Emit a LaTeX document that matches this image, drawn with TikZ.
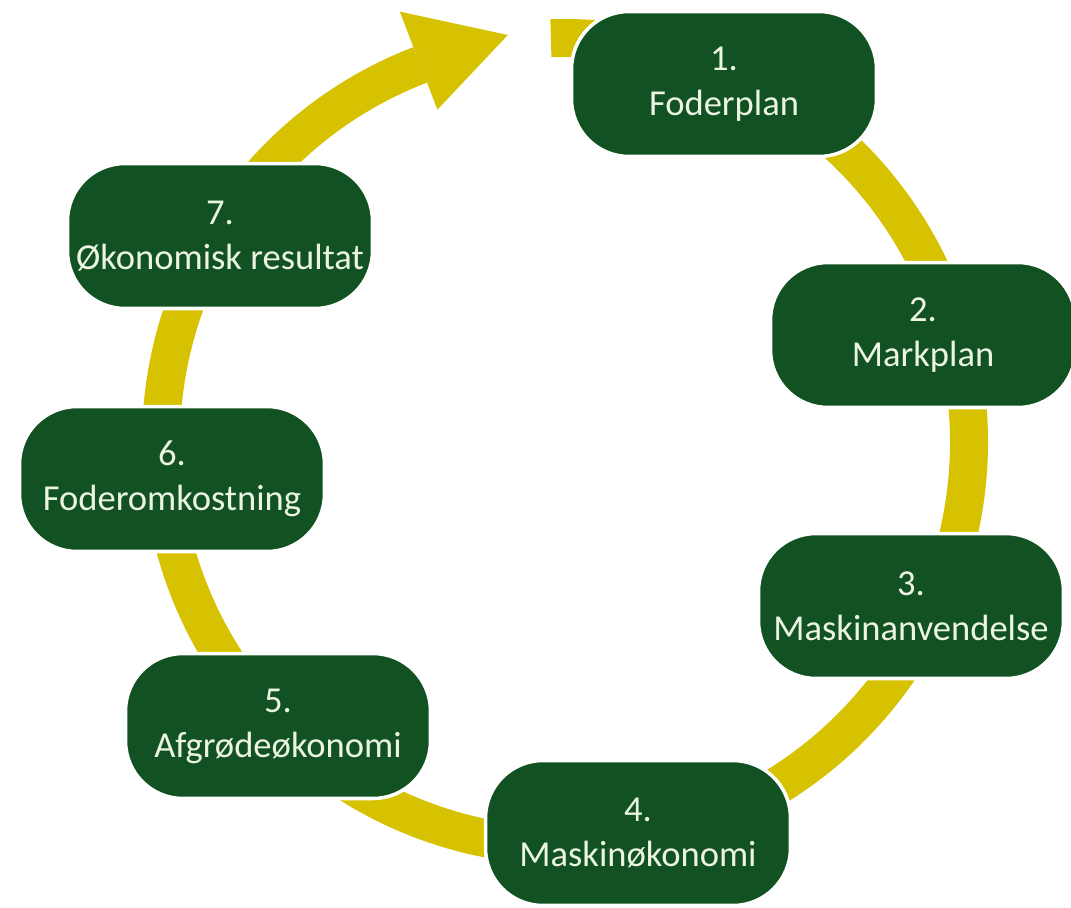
\documentclass[tikz,border=0pt]{standalone}
\usepackage{fontspec}
\setmainfont{Carlito}
\usetikzlibrary{calc}
\definecolor{bandyellow}{RGB}{214,194,0}
\definecolor{boxgreen}{RGB}{18,82,34}
\definecolor{boxtext}{RGB}{236,244,226}
\tikzset{
	stepbox/.style = {
			rectangle, rounded corners=1.15cm, fill=boxgreen, draw=white, line width=2pt,
			minimum width=6.1cm, minimum height=2.9cm, align=center,
			text=boxtext, font=\fontsize{20.8}{25.5}\selectfont
	},
	band/.style = {draw=bandyellow, line width=0.76cm}
}

\begin{document}
\begin{tikzpicture}[x=0.02cm, y=0.02cm]
					\useasboundingbox (0,0) rectangle (1071,-907);
					\coordinate (O) at (565,-442);
					% ====== Cycle ========
					\draw[band] ([shift={(92:404)}]O) arc[start angle=92, end angle=-249, radius=404];
					\fill[bandyellow] ([shift={(111:461)}]O) -- ([shift={(98:411)}]O) -- ([shift={(111:356)}]O) -- cycle;
					% ====== Steps ========
					\node[stepbox] (n1) at (724,-84) {1.\\Foderplan};
					\node[stepbox] (n2) at (923,-335) {2.\\Markplan};
					\node[stepbox] (n3) at (911,-606) {3.\\Maskinanvendelse};
					\node[stepbox] (n4) at (638,-833) {4.\\Maskinøkonomi};
					\node[stepbox] (n5) at (278,-726) {5.\\Afgrødeøkonomi};
					\node[stepbox] (n6) at (172,-479) {6.\\Foderomkostning};
					\node[stepbox] (n7) at (220,-236) {7.\\Økonomisk resultat};
				\end{tikzpicture}
\end{document}
